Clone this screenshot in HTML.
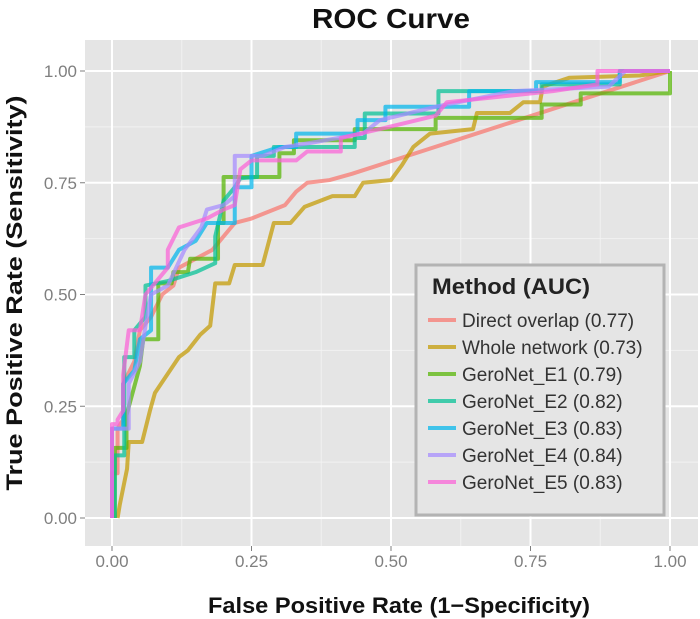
<!DOCTYPE html>
<html><head><meta charset="utf-8"><style>
body{margin:0;background:#fff;}
svg{display:block;font-family:"Liberation Sans",sans-serif;}
</style></head><body>
<svg id="chart" width="700" height="619">
<text x="391" y="28" text-anchor="middle" font-size="28" font-weight="bold" fill="#111" textLength="158" lengthAdjust="spacingAndGlyphs">ROC Curve</text>
<rect x="85" y="40" width="613" height="506" fill="#e5e5e5"/>
<g id="grid"></g>
<g id="series"></g>
<g id="ticks"></g>
<text x="399" y="613" text-anchor="middle" font-size="22" font-weight="bold" fill="#111" textLength="382" lengthAdjust="spacingAndGlyphs">False Positive Rate (1−Specificity)</text>
<text transform="translate(22,293) rotate(-90)" text-anchor="middle" font-size="22" font-weight="bold" fill="#111" textLength="395" lengthAdjust="spacingAndGlyphs">True Positive Rate (Sensitivity)</text>
<g id="legend">
<rect x="416" y="265" width="248" height="250" fill="#e5e5e5" stroke="#b3b3b3" stroke-width="3"/>
<text x="432" y="294" font-size="22" font-weight="bold" fill="#222" textLength="158" lengthAdjust="spacingAndGlyphs">Method (AUC)</text>
</g>
</svg>
<script>
const tickValues=[0,0.25,0.5,0.75,1];
const tickLabels=["0.00","0.25","0.50","0.75","1.00"];
const seriesNames=["Direct overlap (0.77)","Whole network (0.73)","GeroNet_E1 (0.79)","GeroNet_E2 (0.82)","GeroNet_E3 (0.83)","GeroNet_E4 (0.84)","GeroNet_E5 (0.83)"];
const seriesColors=["#f8766d","#c49a00","#53b400","#00c094","#00b6eb","#a58aff","#fb61d7"];
const directOverlap=[[0,0],[0,0.1],[0.01,0.1],[0.01,0.2],[0.02,0.22],[0.02,0.3],[0.04,0.35],[0.05,0.42],[0.07,0.45],[0.09,0.5],[0.11,0.52],[0.12,0.56],[0.15,0.58],[0.18,0.6],[0.2,0.63],[0.22,0.66],[0.25,0.67],[0.31,0.7],[0.33,0.73],[0.35,0.75],[0.39,0.756],[0.43,0.77],[1,1]];
const wholeNetwork=[[0.01,0],[0.014,0.03],[0.027,0.11],[0.03,0.17],[0.054,0.17],[0.068,0.24],[0.077,0.28],[0.12,0.36],[0.136,0.375],[0.158,0.41],[0.176,0.43],[0.185,0.525],[0.21,0.525],[0.22,0.566],[0.27,0.566],[0.29,0.66],[0.32,0.66],[0.345,0.696],[0.395,0.72],[0.435,0.72],[0.45,0.75],[0.5,0.756],[0.52,0.79],[0.54,0.83],[0.57,0.86],[0.647,0.87],[0.654,0.906],[0.713,0.906],[0.737,0.93],[0.767,0.93],[0.772,0.965],[0.82,0.985],[0.946,0.99],[1,1]];
const geroE1=[[0.005,0],[0.005,0.157],[0.026,0.157],[0.026,0.23],[0.05,0.34],[0.056,0.4],[0.083,0.4],[0.083,0.525],[0.107,0.525],[0.11,0.55],[0.136,0.55],[0.14,0.58],[0.19,0.58],[0.19,0.66],[0.2,0.66],[0.2,0.763],[0.3,0.763],[0.3,0.816],[0.326,0.816],[0.326,0.845],[0.435,0.845],[0.435,0.87],[0.58,0.87],[0.58,0.895],[0.77,0.895],[0.77,0.925],[0.84,0.925],[0.84,0.95],[1,0.95],[1,1]];
const geroE2=[[0.005,0],[0.005,0.14],[0.022,0.14],[0.022,0.36],[0.04,0.36],[0.04,0.42],[0.06,0.45],[0.06,0.52],[0.1,0.53],[0.15,0.55],[0.185,0.57],[0.185,0.63],[0.2,0.71],[0.22,0.74],[0.23,0.76],[0.26,0.763],[0.26,0.81],[0.29,0.81],[0.29,0.83],[0.435,0.83],[0.435,0.85],[0.453,0.85],[0.453,0.905],[0.585,0.905],[0.585,0.955],[0.77,0.955],[0.77,0.97],[0.91,0.97],[0.91,1],[1,1]];
const geroE3=[[0,0],[0,0.2],[0.02,0.2],[0.02,0.3],[0.04,0.33],[0.05,0.4],[0.07,0.42],[0.07,0.56],[0.1,0.56],[0.12,0.6],[0.15,0.62],[0.17,0.66],[0.22,0.66],[0.22,0.74],[0.25,0.74],[0.25,0.81],[0.3,0.83],[0.33,0.83],[0.33,0.86],[0.44,0.86],[0.44,0.89],[0.49,0.89],[0.49,0.92],[0.64,0.92],[0.64,0.955],[0.76,0.955],[0.76,0.975],[0.91,0.975],[0.91,1],[1,1]];
const geroE4=[[0,0],[0,0.2],[0.03,0.2],[0.03,0.3],[0.05,0.35],[0.06,0.43],[0.07,0.5],[0.1,0.52],[0.13,0.6],[0.16,0.65],[0.17,0.69],[0.2,0.7],[0.22,0.72],[0.22,0.81],[0.27,0.81],[0.31,0.83],[0.36,0.84],[0.45,0.86],[0.48,0.89],[0.58,0.92],[0.72,0.955],[0.89,0.965],[0.92,1],[1,1]];
const geroE5=[[0,0],[0,0.21],[0.01,0.21],[0.01,0.22],[0.02,0.24],[0.02,0.32],[0.03,0.42],[0.05,0.42],[0.06,0.5],[0.08,0.53],[0.1,0.56],[0.1,0.6],[0.12,0.65],[0.17,0.67],[0.2,0.69],[0.22,0.7],[0.23,0.78],[0.25,0.8],[0.33,0.8],[0.35,0.82],[0.41,0.82],[0.41,0.85],[0.48,0.87],[0.58,0.9],[0.6,0.93],[0.79,0.955],[0.87,0.97],[0.87,1],[1,1]];
const allSeries=[directOverlap,wholeNetwork,geroE1,geroE2,geroE3,geroE4,geroE5];
const seriesKeys=["direct-overlap","whole-network","geronet-e1","geronet-e2","geronet-e3","geronet-e4","geronet-e5"];

const NS="http://www.w3.org/2000/svg";
function xs(v){return 112+v*558;}
function ys(v){return 518-v*447;}
function mk(tag,attrs,parent){const e=document.createElementNS(NS,tag);for(const k in attrs)e.setAttribute(k,attrs[k]);parent.appendChild(e);return e;}
const grid=document.getElementById('grid');
for(let i=0;i<tickValues.length-1;i++){
  const m=(tickValues[i]+tickValues[i+1])/2;
  const a=mk('line',{x1:xs(m),x2:xs(m),y1:40,y2:546,stroke:'#f2f2f2','stroke-width':1},grid);
  
  
  const b=mk('line',{x1:85,x2:698,y1:ys(m),y2:ys(m),stroke:'#f2f2f2','stroke-width':1},grid);
  
  
}
const ticks=document.getElementById('ticks');
tickValues.forEach((v,i)=>{
  const a=mk('line',{x1:xs(v),x2:xs(v),y1:40,y2:546,stroke:'#fff','stroke-width':2},grid);
  
  
  const b=mk('line',{x1:85,x2:698,y1:ys(v),y2:ys(v),stroke:'#fff','stroke-width':2},grid);
  
  
  const tx=mk('text',{x:xs(v),y:567,'text-anchor':'middle','font-size':17,fill:'#7f7f7f'},ticks);
  tx.textContent=tickLabels[i];
  
  
  const ty=mk('text',{x:77,y:ys(v)+6,'text-anchor':'end','font-size':17,fill:'#7f7f7f'},ticks);
  ty.textContent=tickLabels[i];
  
  
  mk('line',{x1:xs(v),x2:xs(v),y1:546,y2:551,stroke:'#7f7f7f','stroke-width':1},ticks);
  mk('line',{x1:80,x2:85,y1:ys(v),y2:ys(v),stroke:'#7f7f7f','stroke-width':1},ticks);
});
const sg=document.getElementById('series');
allSeries.forEach((pts,i)=>{
  const p=mk('polyline',{points:pts.map(d=>xs(d[0])+','+ys(d[1])).join(' '),fill:'none',stroke:seriesColors[i],'stroke-width':4,'stroke-opacity':0.72,'stroke-linejoin':'round'},sg);
  
  
});
const lg=document.getElementById('legend');
seriesNames.forEach((n,i)=>{
  const y=320+i*27;
  const l=mk('line',{x1:428,x2:456,y1:y,y2:y,stroke:seriesColors[i],'stroke-width':4,'stroke-opacity':0.72},lg);
  
  
  const t=mk('text',{x:462,y:y+7,'font-size':19,fill:'#333'},lg);
  t.textContent=n;
  
  
});
</script>
</body></html>
